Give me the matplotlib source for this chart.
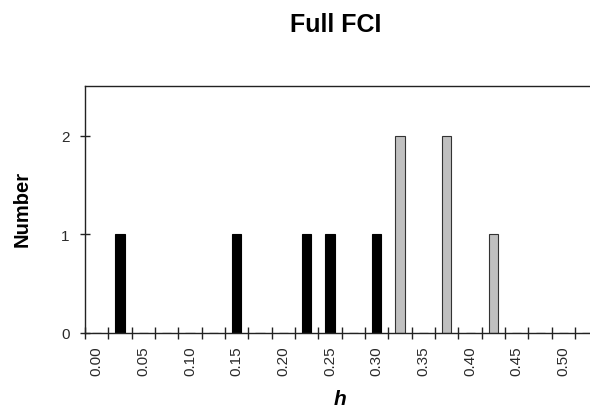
import numpy as np
import matplotlib
matplotlib.use("Agg")
import matplotlib.pyplot as plt

plt.rcParams['font.family'] = ['Liberation Sans', 'DejaVu Sans']

# histogram bins of h (step 0.025) and counts for the two groups
bins = [0.000, 0.025, 0.050, 0.075, 0.100, 0.125, 0.150, 0.175, 0.200, 0.225, 0.250,
        0.275, 0.300, 0.325, 0.350, 0.375, 0.400, 0.425, 0.450, 0.475, 0.500, 0.525]
black_counts = [0, 1, 0, 0, 0, 0, 1, 0, 0, 1, 1, 0, 1, 0, 0, 0, 0, 0, 0, 0, 0, 0]
grey_counts  = [0, 0, 0, 0, 0, 0, 0, 0, 0, 0, 0, 0, 0, 2, 0, 2, 0, 1, 0, 0, 0, 0]
tick_labels = ["{:.2f}".format(b) if i % 2 == 0 else "" for i, b in enumerate(bins)]

fig = plt.figure(figsize=(5.9, 4.1), dpi=100)
ax = fig.add_axes([85/590, 76/410, 505/590, 247.3/410])

x = np.arange(len(bins))
w = 0.39
ax.bar(x, black_counts, width=w, color='black', edgecolor='black', linewidth=0.8)
ax.bar(x, grey_counts, width=w, color='#c0c0c0', edgecolor='#333333', linewidth=0.8)

ax.set_xlim(-0.5, 21.14)
ax.set_ylim(0, 2.51)

ax.set_xticks(x)
ax.set_xticklabels(tick_labels, rotation=90, fontsize=11, color='#2a2a2a')
ax.set_xticks(np.arange(len(bins)) - 0.5, minor=True)
ax.tick_params(axis='x', which='major', length=0, pad=9)
ax.tick_params(axis='x', which='minor', direction='inout', length=8.6, width=1, color='#222222')

ax.set_yticks([0, 1, 2])
ax.set_yticklabels(['0', '1', '2'], fontsize=11, color='#2a2a2a')
ax.tick_params(axis='y', direction='inout', length=6.5, width=1, pad=8, color='#222222')

for s in ['left', 'bottom', 'top']:
    ax.spines[s].set_color('#222222')
    ax.spines[s].set_linewidth(1)
ax.spines['right'].set_visible(False)

fig.text(336/590, 1 - 25/410, "Full FCI", ha='center', va='center', fontsize=18, fontweight='bold')
fig.text(22/590, 1 - 209/410, "Number", ha='center', va='center', rotation=90,
         fontsize=14.5, fontweight='bold')
fig.text(340/590, 0.012, "h", ha='center', va='baseline', fontsize=15,
         fontweight='bold', fontstyle='italic')

fig.savefig('out.png', dpi=100)
